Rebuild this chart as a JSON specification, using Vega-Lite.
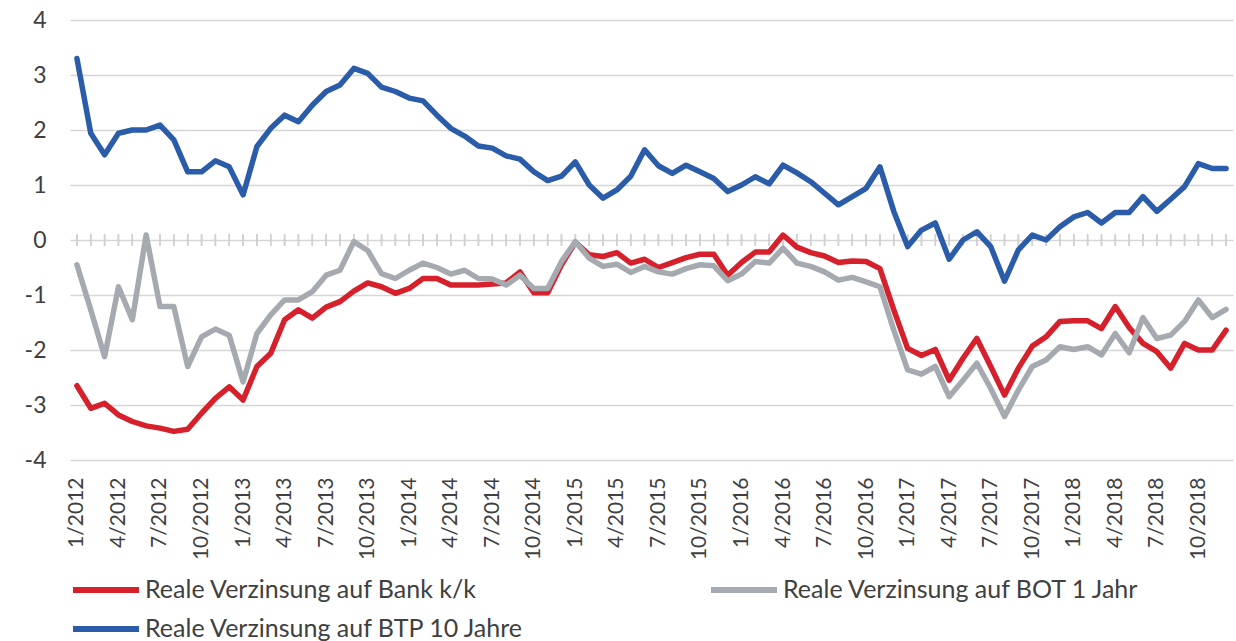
{
  "$schema": "https://vega.github.io/schema/vega-lite/v6.json",
  "width": 1163,
  "height": 440,
  "autosize": "none",
  "padding": {"left": 70, "top": 20, "right": 3, "bottom": 181},
  "config": {"view": {"stroke": null}, "font": "Lato"},
  "data": {"values": [
    {"m":"1/2012","a":-2.65,"b":-0.45,"c":3.30},
    {"m":"2/2012","a":-3.06,"b":-1.27,"c":1.94},
    {"m":"3/2012","a":-2.97,"b":-2.12,"c":1.55},
    {"m":"4/2012","a":-3.18,"b":-0.85,"c":1.94},
    {"m":"5/2012","a":-3.30,"b":-1.45,"c":2.00},
    {"m":"6/2012","a":-3.38,"b":0.09,"c":2.00},
    {"m":"7/2012","a":-3.42,"b":-1.21,"c":2.09},
    {"m":"8/2012","a":-3.48,"b":-1.21,"c":1.82},
    {"m":"9/2012","a":-3.44,"b":-2.30,"c":1.24},
    {"m":"10/2012","a":-3.15,"b":-1.76,"c":1.24},
    {"m":"11/2012","a":-2.88,"b":-1.62,"c":1.44},
    {"m":"12/2012","a":-2.67,"b":-1.73,"c":1.33},
    {"m":"1/2013","a":-2.91,"b":-2.58,"c":0.82},
    {"m":"2/2013","a":-2.30,"b":-1.70,"c":1.70},
    {"m":"3/2013","a":-2.06,"b":-1.36,"c":2.03},
    {"m":"4/2013","a":-1.45,"b":-1.09,"c":2.27},
    {"m":"5/2013","a":-1.27,"b":-1.09,"c":2.15},
    {"m":"6/2013","a":-1.42,"b":-0.94,"c":2.45},
    {"m":"7/2013","a":-1.22,"b":-0.64,"c":2.70},
    {"m":"8/2013","a":-1.12,"b":-0.55,"c":2.82},
    {"m":"9/2013","a":-0.93,"b":-0.03,"c":3.12},
    {"m":"10/2013","a":-0.78,"b":-0.19,"c":3.03},
    {"m":"11/2013","a":-0.85,"b":-0.61,"c":2.78},
    {"m":"12/2013","a":-0.97,"b":-0.70,"c":2.70},
    {"m":"1/2014","a":-0.88,"b":-0.55,"c":2.58},
    {"m":"2/2014","a":-0.70,"b":-0.42,"c":2.53},
    {"m":"3/2014","a":-0.70,"b":-0.50,"c":2.27},
    {"m":"4/2014","a":-0.82,"b":-0.62,"c":2.03},
    {"m":"5/2014","a":-0.82,"b":-0.55,"c":1.89},
    {"m":"6/2014","a":-0.82,"b":-0.70,"c":1.71},
    {"m":"7/2014","a":-0.80,"b":-0.71,"c":1.67},
    {"m":"8/2014","a":-0.78,"b":-0.82,"c":1.53},
    {"m":"9/2014","a":-0.58,"b":-0.64,"c":1.47},
    {"m":"10/2014","a":-0.96,"b":-0.88,"c":1.24},
    {"m":"11/2014","a":-0.96,"b":-0.88,"c":1.08},
    {"m":"12/2014","a":-0.45,"b":-0.39,"c":1.16},
    {"m":"1/2015","a":-0.04,"b":-0.03,"c":1.42},
    {"m":"2/2015","a":-0.27,"b":-0.33,"c":1.00},
    {"m":"3/2015","a":-0.30,"b":-0.48,"c":0.76},
    {"m":"4/2015","a":-0.23,"b":-0.44,"c":0.91},
    {"m":"5/2015","a":-0.42,"b":-0.59,"c":1.16},
    {"m":"6/2015","a":-0.35,"b":-0.48,"c":1.64},
    {"m":"7/2015","a":-0.50,"b":-0.58,"c":1.35},
    {"m":"8/2015","a":-0.41,"b":-0.62,"c":1.21},
    {"m":"9/2015","a":-0.32,"b":-0.52,"c":1.36},
    {"m":"10/2015","a":-0.26,"b":-0.45,"c":1.24},
    {"m":"11/2015","a":-0.26,"b":-0.47,"c":1.12},
    {"m":"12/2015","a":-0.64,"b":-0.74,"c":0.88},
    {"m":"1/2016","a":-0.41,"b":-0.62,"c":1.00},
    {"m":"2/2016","a":-0.22,"b":-0.39,"c":1.15},
    {"m":"3/2016","a":-0.22,"b":-0.42,"c":1.02},
    {"m":"4/2016","a":0.09,"b":-0.15,"c":1.36},
    {"m":"5/2016","a":-0.13,"b":-0.42,"c":1.22},
    {"m":"6/2016","a":-0.23,"b":-0.48,"c":1.06},
    {"m":"7/2016","a":-0.29,"b":-0.58,"c":0.85},
    {"m":"8/2016","a":-0.41,"b":-0.73,"c":0.64},
    {"m":"9/2016","a":-0.38,"b":-0.68,"c":0.79},
    {"m":"10/2016","a":-0.39,"b":-0.76,"c":0.94},
    {"m":"11/2016","a":-0.52,"b":-0.85,"c":1.33},
    {"m":"12/2016","a":-1.27,"b":-1.64,"c":0.52},
    {"m":"1/2017","a":-1.97,"b":-2.36,"c":-0.12},
    {"m":"2/2017","a":-2.10,"b":-2.44,"c":0.18},
    {"m":"3/2017","a":-1.99,"b":-2.30,"c":0.31},
    {"m":"4/2017","a":-2.55,"b":-2.85,"c":-0.35},
    {"m":"5/2017","a":-2.15,"b":-2.55,"c":0.00},
    {"m":"6/2017","a":-1.79,"b":-2.24,"c":0.15},
    {"m":"7/2017","a":-2.30,"b":-2.70,"c":-0.12},
    {"m":"8/2017","a":-2.82,"b":-3.21,"c":-0.75},
    {"m":"9/2017","a":-2.33,"b":-2.73,"c":-0.18},
    {"m":"10/2017","a":-1.93,"b":-2.30,"c":0.09},
    {"m":"11/2017","a":-1.76,"b":-2.18,"c":0.00},
    {"m":"12/2017","a":-1.48,"b":-1.94,"c":0.24},
    {"m":"1/2018","a":-1.47,"b":-1.99,"c":0.42},
    {"m":"2/2018","a":-1.47,"b":-1.94,"c":0.50},
    {"m":"3/2018","a":-1.61,"b":-2.09,"c":0.31},
    {"m":"4/2018","a":-1.21,"b":-1.70,"c":0.50},
    {"m":"5/2018","a":-1.59,"b":-2.05,"c":0.50},
    {"m":"6/2018","a":-1.88,"b":-1.41,"c":0.79},
    {"m":"7/2018","a":-2.03,"b":-1.79,"c":0.52},
    {"m":"8/2018","a":-2.33,"b":-1.73,"c":0.74},
    {"m":"9/2018","a":-1.88,"b":-1.48,"c":0.97},
    {"m":"10/2018","a":-2.00,"b":-1.09,"c":1.39},
    {"m":"11/2018","a":-2.00,"b":-1.41,"c":1.30},
    {"m":"12/2018","a":-1.64,"b":-1.26,"c":1.30}
  ]},
  "transform": [{"fold": ["a", "b", "c"], "as": ["s", "v"]}],
  "encoding": {
    "x": {
      "field": "m", "type": "ordinal", "sort": null,
      "scale": {"type": "point", "padding": 0.5},
      "axis": {
        "values": ["1/2012","4/2012","7/2012","10/2012","1/2013","4/2013","7/2013","10/2013","1/2014","4/2014","7/2014","10/2014","1/2015","4/2015","7/2015","10/2015","1/2016","4/2016","7/2016","10/2016","1/2017","4/2017","7/2017","10/2017","1/2018","4/2018","7/2018","10/2018"],
        "title": null, "domain": false, "ticks": false, "grid": false,
        "labelAngle": -90, "labelPadding": 17, "labelFontSize": 21,
        "labelColor": "#404040", "labelFont": "Lato"
      }
    }
  },
  "layer": [
    {
      "mark": {"type": "tick", "orient": "vertical", "color": "#cfcfcf", "thickness": 1.5, "size": 12},
      "encoding": {
        "y": {"datum": 0, "type": "quantitative",
          "scale": {"domain": [-4, 4]},
          "axis": {"values": [-4,-3,-2,-1,0,1,2,3,4], "title": null, "domain": false, "ticks": false, "grid": true,
            "labelPadding": 24, "labelFontSize": 23, "labelColor": "#404040", "labelFont": "Lato",
            "labelExpr": "'' + datum.value",
            "gridColor": "#d6d6d6", "gridWidth": 1.5, "gridOpacity": 1}}
      }
    },
    {
      "mark": {"type": "line", "strokeWidth": 5.5, "strokeJoin": "round", "strokeCap": "round"},
      "encoding": {
        "y": {"field": "v", "type": "quantitative",
          "scale": {"domain": [-4, 4]},
          "axis": {"values": [-4,-3,-2,-1,0,1,2,3,4], "title": null, "domain": false, "ticks": false, "grid": true,
            "labelPadding": 24, "labelFontSize": 23, "labelColor": "#404040", "labelFont": "Lato",
            "labelExpr": "'' + datum.value",
            "gridColor": "#d6d6d6", "gridWidth": 1.5, "gridOpacity": 1}},
        "color": {
          "field": "s", "type": "nominal",
          "scale": {"domain": ["a", "b", "c"], "range": ["#d6202b", "#a5aab1", "#2a5caa"]},
          "legend": {
            "orient": "none", "legendX": 0, "legendY": 557,
            "direction": "horizontal", "columns": 2, "title": null,
            "symbolType": "stroke", "symbolSize": 4356, "symbolStrokeWidth": 6,
            "clipHeight": 26, "rowPadding": 13, "columnPadding": 183,
            "labelOffset": 3, "labelLimit": 700, "labelFontSize": 25,
            "labelColor": "#404040", "labelFont": "Lato",
            "labelExpr": "datum.label == 'a' ? 'Reale Verzinsung auf Bank k/k' : datum.label == 'b' ? 'Reale Verzinsung auf BOT 1 Jahr' : 'Reale Verzinsung auf BTP 10 Jahre'"
          }
        }
      }
    }
  ]
}
